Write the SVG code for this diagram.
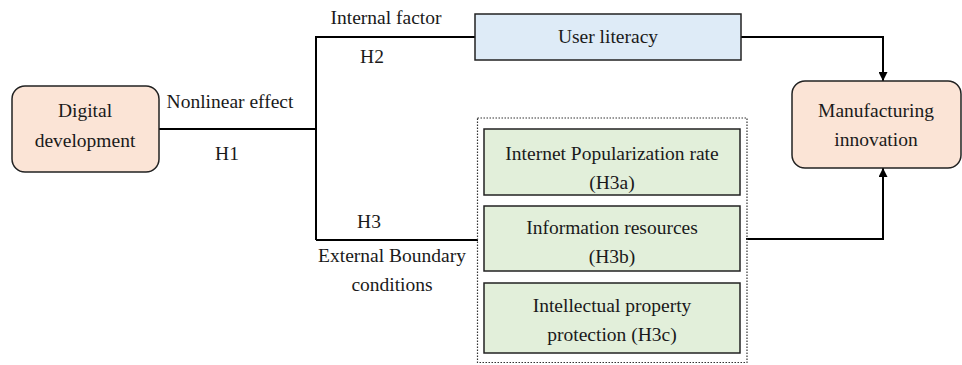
<svg xmlns="http://www.w3.org/2000/svg" width="962" height="365" viewBox="0 0 962 365">
<style>
text{font-family:"Liberation Serif","Times New Roman",serif;font-size:19.5px;fill:#1a1a1a;text-anchor:middle}
.box{stroke:#222;stroke-width:1.5}
.orange{fill:#fbe4d6}
.blue{fill:#deebf7}
.green{fill:#e2efda}
.ln{fill:none;stroke:#000;stroke-width:2}
</style>
<defs>
<marker id="arr" viewBox="0 0 10 10" refX="10" refY="5" markerWidth="10" markerHeight="9" markerUnits="userSpaceOnUse" orient="auto">
<path d="M0,0 L10,5 L0,10 z" fill="#000"/>
</marker>
</defs>
<g id="connectors">
<polyline class="ln" points="159,129 316,129"/>
<polyline class="ln" points="316,240 316,37 475,37"/>
<polyline class="ln" points="316,240 478,240"/>
<polyline class="ln" points="741,37 883,37 883,81" marker-end="url(#arr)"/>
<polyline class="ln" points="746,239 883,239 883,168" marker-end="url(#arr)"/>
</g>
<g id="labels">
<text x="386" y="24">Internal factor</text>
<text x="372" y="63">H2</text>
<text x="230" y="108">Nonlinear effect</text>
<text x="227" y="160">H1</text>
<text x="369" y="228">H3</text>
<text x="392" y="262">External Boundary</text>
<text x="392" y="291">conditions</text>
</g>
<g id="digital">
<rect class="box orange" x="12" y="86" width="147" height="86" rx="13"/>
<text x="85" y="117">Digital</text>
<text x="85" y="147">development</text>
</g>
<g id="user">
<rect class="box blue" x="475" y="14" width="266" height="46"/>
<text x="608" y="43">User literacy</text>
</g>
<g id="manufacturing">
<rect class="box orange" x="792" y="81" width="169" height="87" rx="13"/>
<text x="876" y="117">Manufacturing</text>
<text x="876" y="146">innovation</text>
</g>
<g id="external">
<rect x="477.5" y="118" width="269.5" height="244.5" fill="none" stroke="#333" stroke-width="1.2" stroke-dasharray="1.5,1.5"/>
</g>
<g id="h3a">
<rect class="box green" x="484" y="129" width="256" height="66"/>
<text x="612" y="160">Internet Popularization rate</text>
<text x="612" y="189">(H3a)</text>
</g>
<g id="h3b">
<rect class="box green" x="484" y="206" width="256" height="65"/>
<text x="612" y="234">Information resources</text>
<text x="612" y="263">(H3b)</text>
</g>
<g id="h3c">
<rect class="box green" x="484" y="283" width="256" height="70"/>
<text x="612" y="312">Intellectual property</text>
<text x="612" y="341">protection (H3c)</text>
</g>
</svg>
